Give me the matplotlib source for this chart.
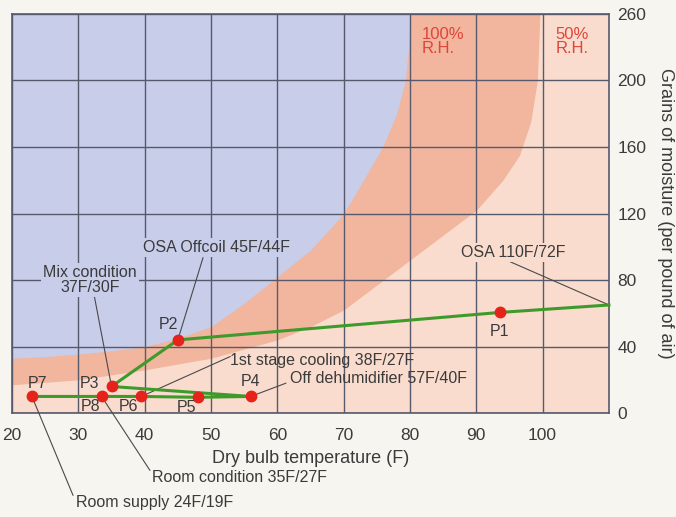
import matplotlib
matplotlib.use("Agg")
import matplotlib.pyplot as plt

# saturation (100% R.H.) and 50% R.H. boundaries
rh100_temp = [20, 25, 30, 35, 40, 45, 50, 55, 60, 65, 70, 73, 76, 78, 79.3, 79.8, 80]
rh100_grains = [33, 34, 35.5, 37.5, 40, 45, 52, 66, 82, 98, 120, 140, 161, 180, 200, 220, 240]
rh50_temp = [20, 30, 40, 50, 60, 65, 70, 76, 80, 85, 90, 94, 96.5, 98.2, 99.2, 99.6]
rh50_grains = [17, 20, 26, 33, 44, 52, 62, 80, 92, 107, 122, 140, 155, 175, 200, 240]

# process path, OSA end point then P1..P7
path_temp = [110, 93.5, 45, 35, 56, 48, 39.5, 33.5, 23]
path_grains = [65, 60.5, 44, 16, 10, 9.5, 10, 10, 10]

point_names = ["P1", "P2", "P3", "P4", "P5", "P6", "P7", "P8"]
point_temp = [93.5, 45, 35, 56, 48, 39.5, 23, 33.5]
point_grains = [60.5, 44, 16, 10, 9.5, 10, 10, 10]

x_ticks = [20, 30, 40, 50, 60, 70, 80, 90, 100]
y_ticks = [0, 40, 80, 120, 160, 200, 240]
y_tick_labels = ["0", "40", "80", "120", "160", "200", "260"]

plt.rcParams["font.family"] = ["Liberation Sans", "DejaVu Sans"]

BG = "#f7f5ef"
BLUE = "#c8cdea"
ORANGE = "#f2b59d"
PEACH = "#f9dccd"
GRID = "#575a6c"
TXT = "#3b3b3b"

fig = plt.figure(figsize=(6.76, 5.17), dpi=100, facecolor=BG)
ax = fig.add_axes([0.0178, 0.201, 0.883, 0.772])
ax.set_xlim(20, 110)
ax.set_ylim(0, 240)
ax.set_facecolor(PEACH)

# colour zones
ax.fill_between(rh50_temp, rh50_grains, 240, color=ORANGE, lw=0, zorder=0.5)
ax.fill_between(rh100_temp, rh100_grains, 240, color=BLUE, lw=0, zorder=0.6)

ax.set_xticks(x_ticks)
ax.set_yticks(y_ticks)
ax.set_yticklabels(y_tick_labels)
ax.grid(True, color=GRID, lw=1.0, zorder=1)
ax.set_axisbelow(False)
ax.tick_params(length=0, labelsize=12.5, colors=TXT)
ax.tick_params(axis="x", pad=11)
ax.tick_params(axis="y", left=False, labelleft=False, right=True, labelright=True, pad=6)
for side in ax.spines.values():
    side.set_color(GRID)
    side.set_linewidth(1.2)

ax.set_xlabel("Dry bulb temperature (F)", fontsize=13, color=TXT, labelpad=5)
ax.yaxis.set_label_position("right")
ax.set_ylabel("Grains of moisture (per pound of air)", fontsize=13, color=TXT,
              rotation=-90, labelpad=20)

ax.text(81.8, 232, "100%\nR.H.", color="#e0453a", fontsize=12, va="top",
        linespacing=0.9, zorder=3)
ax.text(101.9, 232, "50%\nR.H.", color="#e0453a", fontsize=12, va="top",
        linespacing=0.9, zorder=3)

# process line and points
ax.plot(path_temp, path_grains, color="#3f9a2c", lw=2.2, zorder=4, clip_on=False)
ax.plot(point_temp, point_grains, "o", color="#e5231b", ms=7.5, zorder=5)

label_offsets = {
    "P1": (0, -14), "P2": (-7, 11), "P3": (-16, 2), "P4": (0, 11),
    "P5": (-8, -7), "P6": (-9, -7), "P7": (4, 9), "P8": (-8, -7),
}
for name, tx, gy in zip(point_names, point_temp, point_grains):
    dx, dy = label_offsets[name]
    ax.annotate(name, (tx, gy), xytext=(dx, dy), textcoords="offset points",
                ha="center", va="center", fontsize=11.5, color=TXT, zorder=6)

# callouts: text, text anchor, leader start, target, box colour
callouts = [
    ("OSA Offcoil 45F/44F", (50.9, 99.8), "center", (48.8, 93.5), (45, 44), BLUE),
    ("Mix condition\n37F/30F", (31.8, 80), "center", (32.4, 70.5), (35, 16), BLUE),
    ("OSA 110F/72F", (95.5, 96.8), "center", (95.1, 91), (110, 65), PEACH),
    ("1st stage cooling 38F/27F", (52.9, 31.5), "left", (52.9, 34), (39.5, 10), None),
    ("Off dehumidifier 57F/40F", (61.9, 20.5), "left", (61.3, 18), (56, 10), None),
    ("Room condition 35F/27F", (41.1, -39), "left", (40.8, -34.5), (33.5, 10), None),
    ("Room supply 24F/19F", (29.6, -54), "left", (29.2, -49.5), (23, 10), None),
]
for text, pos, ha, start, target, face in callouts:
    ax.annotate("", xy=target, xytext=start, annotation_clip=False,
                arrowprops=dict(arrowstyle="-", color="#4a4a4a", lw=0.8,
                                shrinkA=0, shrinkB=0), zorder=3)
    box = dict(facecolor=face, edgecolor="none", pad=1.5) if face else None
    ax.text(pos[0], pos[1], text, ha=ha, va="center", fontsize=11.5, color=TXT,
            linespacing=1.0, bbox=box, zorder=3, clip_on=False)

fig.savefig("out.png", dpi=100, facecolor=BG)
